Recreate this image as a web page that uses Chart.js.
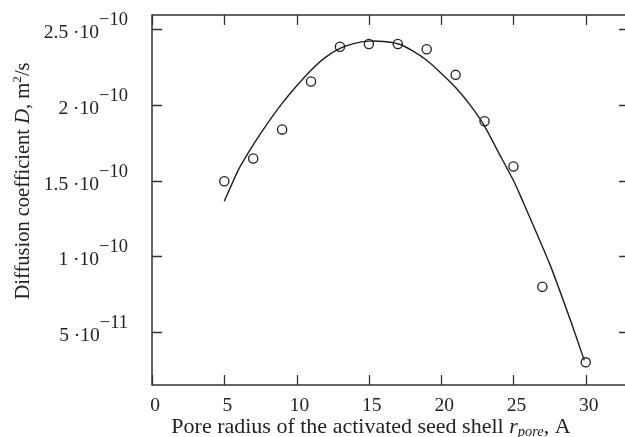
<!DOCTYPE html>
<html>
<head>
<meta charset="utf-8">
<script src="https://cdn.jsdelivr.net/npm/chart.js@4/dist/chart.umd.min.js"></script>
<style>
  html, body { margin: 0; padding: 0; background: #fff; overflow: hidden; }
  /* the right frame of the original sits just past the picture edge
     (chart.js also keeps ~6px for the point overflow) */
  #wrap { width: 635px; height: 437px; position: relative; }
</style>
</head>
<body>
<div id="wrap"><canvas id="chart"></canvas></div>
<script>
// measured points
const poreR = [5, 7, 9, 11, 13, 15, 17, 19, 21, 23, 25, 27, 30];
const diffD = [1.495e-10, 1.646e-10, 1.838e-10, 2.155e-10, 2.385e-10, 2.403e-10, 2.403e-10,
               2.368e-10, 2.199e-10, 1.892e-10, 1.593e-10, 0.797e-10, 0.297e-10];

// fitted curve
const fitR = [5, 6, 7, 8, 9, 10, 11, 12, 13, 14, 15, 16, 17, 18, 19, 20, 21, 22, 23, 24, 25, 25.5, 27.5, 29, 29.9];
const fitD = [1.363e-10, 1.575e-10, 1.735e-10, 1.88e-10, 2.01e-10, 2.125e-10, 2.23e-10, 2.315e-10,
              2.374e-10, 2.407e-10, 2.422e-10, 2.42e-10, 2.405e-10, 2.36e-10, 2.296e-10, 2.21e-10,
              2.115e-10, 2.0e-10, 1.86e-10, 1.68e-10, 1.5e-10, 1.395e-10, 0.95e-10, 0.56e-10, 0.31e-10];

// axis ticks
const xTicks = [0, 5, 10, 15, 20, 25, 30];
const yTicks = [0.5e-10, 1e-10, 1.5e-10, 2e-10, 2.5e-10];
const yTickMant = ['5 ·10', '1 ·10', '1.5 ·10', '2 ·10', '2.5 ·10'];
const yTickExp = ['\u221211', '\u221210', '\u221210', '\u221210', '\u221210'];

const INK = '#222';
const SERIF = "'Liberation Serif', 'DejaVu Serif', serif";

function f(size, style) {
  return (style || 'normal') + ' ' + size + 'px ' + SERIF;
}

// draw a row of text pieces with different fonts
function drawRuns(ctx, runs, align) {
  let w = 0;
  runs.forEach(r => { ctx.font = r.font; r.w = ctx.measureText(r.text).width; w += r.w; });
  let cx = align === 'right' ? -w : align === 'center' ? -w / 2 : 0;
  runs.forEach(r => {
    ctx.font = r.font;
    ctx.fillText(r.text, cx, r.dy || 0);
    cx += r.w;
  });
}

const framePlugin = {
  id: 'frame',
  afterDraw(chart) {
    const ctx = chart.ctx;
    const a = chart.chartArea;
    const xs = chart.scales.x, ys = chart.scales.y;
    ctx.save();
    ctx.strokeStyle = '#333';
    ctx.lineWidth = 1.5;
    ctx.strokeRect(a.left, a.top, a.right - a.left, a.bottom - a.top);

    // inward ticks on all four sides
    ctx.lineWidth = 1.3;
    ctx.beginPath();
    xTicks.forEach(v => {
      const px = Math.round(xs.getPixelForValue(v)) + 0.5;
      ctx.moveTo(px, a.bottom); ctx.lineTo(px, a.bottom - 10);
      ctx.moveTo(px, a.top); ctx.lineTo(px, a.top + 10);
    });
    yTicks.forEach(v => {
      const py = Math.round(ys.getPixelForValue(v)) + 0.5;
      ctx.moveTo(a.left, py); ctx.lineTo(a.left + 10, py);
      ctx.moveTo(a.right, py); ctx.lineTo(a.right - 10, py);
    });
    ctx.stroke();

    ctx.fillStyle = INK;
    ctx.textBaseline = 'alphabetic';

    // x tick labels
    xTicks.forEach(v => {
      ctx.save();
      ctx.translate(xs.getPixelForValue(v) + 3, 410.5);
      drawRuns(ctx, [{ text: String(v), font: f(19.5) }], 'center');
      ctx.restore();
    });

    // y tick labels  m·10^e
    yTicks.forEach((v, i) => {
      ctx.save();
      ctx.translate(128, ys.getPixelForValue(v) + 9);
      drawRuns(ctx, [
        { text: yTickMant[i], font: f(19.5) },
        { text: yTickExp[i], font: f(18.5), dy: -13 }
      ], 'right');
      ctx.restore();
    });

    // x title
    ctx.save();
    ctx.translate(371, 433);
    drawRuns(ctx, [
      { text: 'Pore radius of the activated seed shell ', font: f(22) },
      { text: 'r', font: f(22, 'italic') },
      { text: 'pore', font: f(14.5, 'italic'), dy: 3 },
      { text: ', A', font: f(22) }
    ], 'center');
    ctx.restore();

    // y title
    ctx.save();
    ctx.translate(29, 181);
    ctx.rotate(-Math.PI / 2);
    drawRuns(ctx, [
      { text: 'Diffusion coefficient ', font: f(20.5) },
      { text: 'D', font: f(20.5, 'italic') },
      { text: ', m', font: f(20.5) },
      { text: '2', font: f(13.5), dy: -8.5 },
      { text: '/s', font: f(20.5) }
    ], 'center');
    ctx.restore();

    ctx.restore();
  }
};

new Chart(document.getElementById('chart'), {
  type: 'scatter',
  data: {
    datasets: [
      {
        label: 'fit',
        data: fitR.map((r, i) => ({ x: r, y: fitD[i] })),
        showLine: true,
        borderColor: '#1e1e1e',
        borderWidth: 1.4,
        pointRadius: 0,
        tension: 0.2,
        fill: false
      },
      {
        label: 'D',
        data: poreR.map((r, i) => ({ x: r, y: diffD[i] })),
        showLine: false,
        pointStyle: 'circle',
        pointRadius: 4.6,
        pointBorderWidth: 1.3,
        pointBorderColor: '#1e1e1e',
        pointBackgroundColor: 'rgba(255,255,255,0)'
      }
    ]
  },
  options: {
    responsive: true,
    maintainAspectRatio: false,
    animation: false,
    layout: { padding: { left: 152, top: 15, right: 0, bottom: 52 } },
    plugins: { legend: { display: false }, tooltip: { enabled: false } },
    scales: {
      x: { type: 'linear', min: 0, max: 33, display: false },
      y: { type: 'linear', min: 0.147e-10, max: 2.595e-10, display: false }
    }
  },
  plugins: [framePlugin]
});
</script>
</body>
</html>
